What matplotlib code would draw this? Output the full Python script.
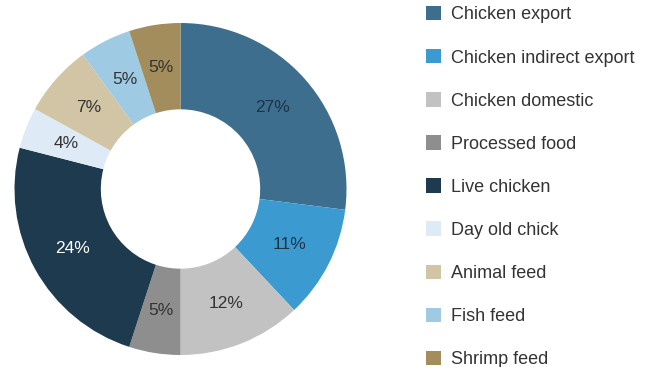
import matplotlib.pyplot as plt

plt.rcParams['font.family'] = ['Liberation Sans', 'DejaVu Sans']

labels = ["Chicken export", "Chicken indirect export", "Chicken domestic",
          "Processed food", "Live chicken", "Day old chick",
          "Animal feed", "Fish feed", "Shrimp feed"]
shares = [27, 11, 12, 5, 24, 4, 7, 5, 5]
colors = ["#3e6e8e", "#3b9bd0", "#c2c2c2", "#8e8e8e", "#1d3a4e",
          "#deebf7", "#d2c5a6", "#9ecbe3", "#a38d5c"]
text_colors = ["#1e3346", "#1e3346", "#333333", "#333333", "#ffffff",
               "#333333", "#333333", "#333333", "#333333"]

fig = plt.figure(figsize=(6.54, 3.67), dpi=100)
ax = fig.add_axes([14.5 / 654, 12 / 367, 332 / 654, 332 / 367])

wedges, texts, autotexts = ax.pie(
    shares, colors=colors, startangle=90, counterclock=False,
    autopct='%d%%', pctdistance=0.74, radius=1.0,
    wedgeprops=dict(width=0.52, linewidth=0),
    textprops=dict(fontsize=12.5))
for t, c in zip(autotexts, text_colors):
    t.set_color(c)
ax.set_xlim(-1, 1)
ax.set_ylim(-1, 1)
ax.set_aspect('equal')

fig.legend(wedges, labels, loc='upper left',
           bbox_to_anchor=(426 / 654, 1 - 6 / 367),
           frameon=False, fontsize=13, borderpad=0, borderaxespad=0,
           handlelength=0.85, handleheight=0.85, handletextpad=0.55,
           labelspacing=1.42, labelcolor="#333333")

fig.savefig("out.png", dpi=100)
